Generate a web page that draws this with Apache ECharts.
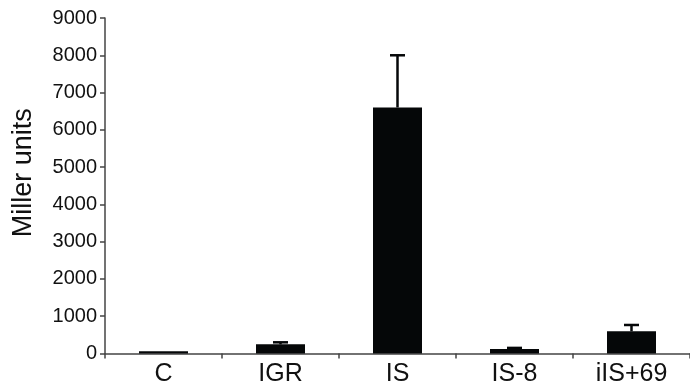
<!DOCTYPE html>
<html><head><meta charset="utf-8">
<script src="https://cdn.jsdelivr.net/npm/echarts@6/dist/echarts.min.js"></script>
<style>html,body{margin:0;padding:0;background:#fff}#c{width:690px;height:388px}</style>
</head><body><div id="c"></div>
<script>
var categories = ['C', 'IGR', 'IS', 'IS-8', 'iIS+69'];
var means = [60, 245, 6600, 120, 595];
var errUpper = [60, 300, 8000, 150, 765];
var yTicks = [0, 1000, 2000, 3000, 4000, 5000, 6000, 7000, 8000, 9000];

var chart = echarts.init(document.getElementById('c'));
var FONT = 'Liberation Sans, Arial, sans-serif';
chart.setOption({
  animation: false,
  grid: {left: 105, right: -5, top: 18, bottom: 34.5},
  xAxis: {
    type: 'category', data: categories,
    axisLine: {lineStyle: {color: '#444', width: 1.5}},
    axisTick: {show: true, length: 5, lineStyle: {color: '#444', width: 1.5}},
    axisLabel: {color: '#111', fontSize: 25, fontFamily: FONT, margin: 8}
  },
  yAxis: {
    type: 'value', min: 0, max: 9000, interval: 1000,
    name: 'Miller units', nameLocation: 'middle', nameGap: 68,
    nameTextStyle: {color: '#111', fontSize: 27, fontFamily: FONT, padding: [0, 0, 0, 26]},
    axisLine: {show: true, lineStyle: {color: '#444', width: 1.5}},
    axisTick: {show: true, length: 5, lineStyle: {color: '#444', width: 1.5}},
    splitLine: {show: false},
    axisLabel: {color: '#111', fontSize: 20, fontFamily: FONT, margin: 8,
      formatter: function (v) { return yTicks.indexOf(v) >= 0 ? String(v) : ''; }}
  },
  series: [
    {type: 'bar', data: means, barWidth: 49, itemStyle: {color: '#050708'}},
    {type: 'custom', z: 1,
     data: categories.map(function (c, i) { return [i, means[i], errUpper[i]]; }),
     renderItem: function (params, api) {
       if (api.value(2) <= api.value(1)) return null;
       var p0 = api.coord([api.value(0), api.value(1)]);
       var p1 = api.coord([api.value(0), api.value(2)]);
       var hw = 7.5;
       var st = {stroke: '#050708', lineWidth: 2.5};
       return {type: 'group', children: [
         {type: 'line', shape: {x1: p0[0], y1: p0[1], x2: p1[0], y2: p1[1]}, style: st},
         {type: 'line', shape: {x1: p1[0] - hw, y1: p1[1], x2: p1[0] + hw, y2: p1[1]}, style: st}
       ]};
     }}
  ]
});
</script></body></html>
